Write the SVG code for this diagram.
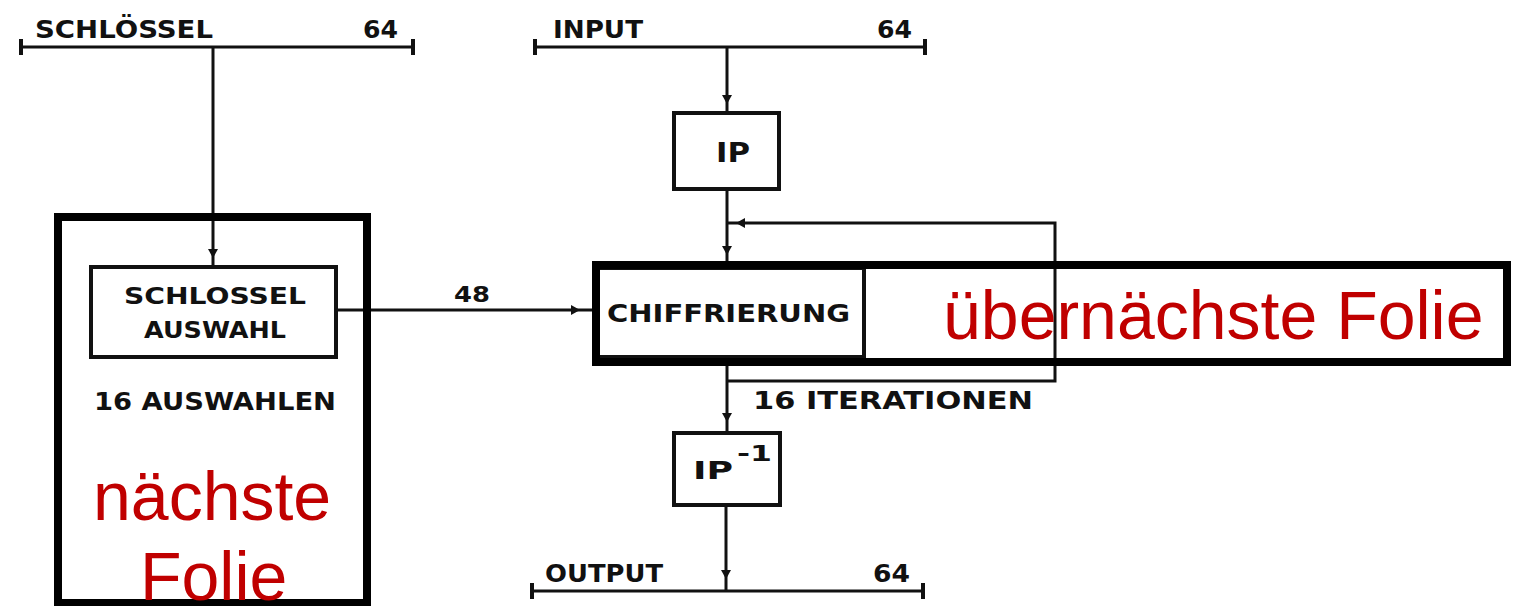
<svg xmlns="http://www.w3.org/2000/svg" xmlns:xlink="http://www.w3.org/1999/xlink" width="1513" height="606" viewBox="0 0 1513 606">
<style>
.ln{stroke:#111;stroke-width:3;fill:none}
.bx{stroke:#111;stroke-width:4;fill:none}
.tick{stroke:#111;stroke-width:4}
.frame{stroke:#000;stroke-width:8;fill:none}
.t{font-family:"DejaVu Sans","Liberation Sans",sans-serif;font-weight:bold;fill:#111}
.red{font-family:"Liberation Sans",Arial,sans-serif;font-size:68px;fill:#c00000}
</style>
<defs>
<path id="ah" d="M-9,-5 L0,0 L-9,5 Z" fill="#111"/>
</defs>
<rect width="1513" height="606" fill="#fff"/>

<g id="key-bus">
<line class="ln" x1="21" y1="47" x2="413" y2="47"/>
<line class="tick" x1="21" y1="39" x2="21" y2="55"/>
<line class="tick" x1="413" y1="39" x2="413" y2="55"/>
<text class="t" x="35" y="38" font-size="24" textLength="178" lengthAdjust="spacingAndGlyphs">SCHLÖSSEL</text>
<text class="t" x="363" y="38" font-size="24" textLength="35" lengthAdjust="spacingAndGlyphs">64</text>
</g>

<g id="input-bus">
<line class="ln" x1="535" y1="47" x2="925" y2="47"/>
<line class="tick" x1="535" y1="39" x2="535" y2="55"/>
<line class="tick" x1="925" y1="39" x2="925" y2="55"/>
<text class="t" x="553" y="38" font-size="24" textLength="90" lengthAdjust="spacingAndGlyphs">INPUT</text>
<text class="t" x="877" y="38" font-size="24" textLength="35" lengthAdjust="spacingAndGlyphs">64</text>
</g>

<g id="output-bus">
<line class="ln" x1="532" y1="591" x2="923" y2="591"/>
<line class="tick" x1="532" y1="583" x2="532" y2="599"/>
<line class="tick" x1="923" y1="583" x2="923" y2="599"/>
<text class="t" x="545" y="582" font-size="24" textLength="118" lengthAdjust="spacingAndGlyphs">OUTPUT</text>
<text class="t" x="873" y="582" font-size="24" textLength="37" lengthAdjust="spacingAndGlyphs">64</text>
</g>

<g id="key-select">
<rect class="bx" x="91" y="267" width="245" height="90"/>
<text class="t" x="124" y="304" font-size="23" textLength="182" lengthAdjust="spacingAndGlyphs">SCHLOSSEL</text>
<text class="t" x="144" y="338" font-size="23" textLength="142" lengthAdjust="spacingAndGlyphs">AUSWAHL</text>
<text class="t" x="94" y="410" font-size="25" textLength="242" lengthAdjust="spacingAndGlyphs">16 AUSWAHLEN</text>
</g>

<g id="ip">
<rect class="bx" x="674" y="113" width="105" height="76"/>
<text class="t" x="716" y="162" font-size="27" textLength="34" lengthAdjust="spacingAndGlyphs">IP</text>
</g>

<g id="chiffrierung">
<rect class="bx" x="598" y="268" width="266" height="89"/>
<text class="t" x="607" y="322" font-size="25" textLength="243" lengthAdjust="spacingAndGlyphs">CHIFFRIERUNG</text>
</g>

<g id="ip-inverse">
<rect class="bx" x="674" y="433" width="106" height="72"/>
<text class="t" x="693" y="479" font-size="25" textLength="40" lengthAdjust="spacingAndGlyphs">IP</text>
<text class="t" x="737" y="461" font-size="21" textLength="35" lengthAdjust="spacingAndGlyphs">-1</text>
</g>

<g id="connectors">
<line class="ln" x1="213" y1="47" x2="213" y2="267"/>
<use xlink:href="#ah" transform="translate(213,258) rotate(90)"/>
<line class="ln" x1="727" y1="47" x2="727" y2="113"/>
<use xlink:href="#ah" transform="translate(727,104) rotate(90)"/>
<line class="ln" x1="727" y1="189" x2="727" y2="268"/>
<use xlink:href="#ah" transform="translate(727,255) rotate(90)"/>
<polyline class="ln" points="727,381 1055,381 1055,223 727,223"/>
<use xlink:href="#ah" transform="translate(736,223) rotate(180)"/>
<line class="ln" x1="336" y1="310" x2="598" y2="310"/>
<use xlink:href="#ah" transform="translate(580,310)"/>
<text class="t" x="454" y="302" font-size="21" textLength="36" lengthAdjust="spacingAndGlyphs">48</text>
<line class="ln" x1="727" y1="357" x2="727" y2="433"/>
<use xlink:href="#ah" transform="translate(727,422) rotate(90)"/>
<text class="t" x="753" y="409" font-size="25" textLength="280" lengthAdjust="spacingAndGlyphs">16 ITERATIONEN</text>
<line class="ln" x1="726" y1="505" x2="726" y2="591"/>
<use xlink:href="#ah" transform="translate(726,579) rotate(90)"/>
</g>

<g id="overlay-next">
<rect class="frame" x="58" y="217" width="309" height="386"/>
<text class="red" x="93" y="520">nächste</text>
<text class="red" x="140" y="600">Folie</text>
</g>

<g id="overlay-after-next">
<rect class="frame" x="596" y="265" width="911" height="97"/>
<text class="red" x="943" y="339">übernächste Folie</text>
</g>
</svg>
